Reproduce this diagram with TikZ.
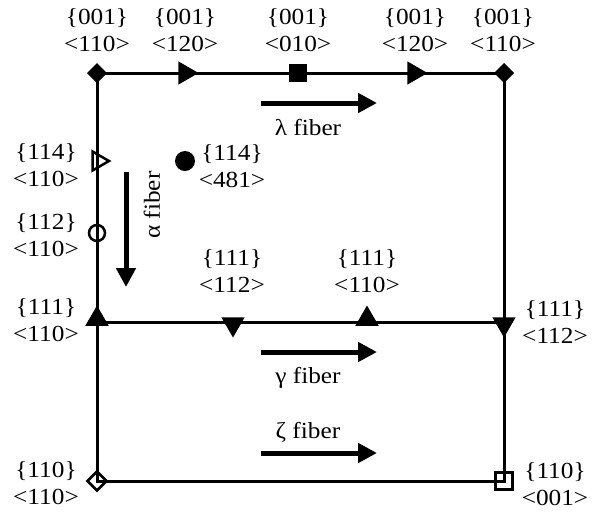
\documentclass[tikz,border=0pt]{standalone}
\usepackage{fontspec}
\setmainfont[FakeStretch=1.1]{Liberation Serif}
\usetikzlibrary{shapes.geometric,arrows.meta}
\begin{document}
\begin{tikzpicture}[x=1pt,y=-1pt,
  frame/.style={line width=3pt},
  mk/.style={inner sep=0pt, outer sep=0pt},
  fdiam/.style={mk, diamond, fill=black, minimum width=20pt, minimum height=20pt},
  odiam/.style={mk, diamond, draw, line width=2.5pt, minimum width=19pt, minimum height=19pt},
  ftri/.style={mk, regular polygon, regular polygon sides=3, fill=black, minimum size=27pt},
  otri/.style={mk, regular polygon, regular polygon sides=3, draw, line width=2.5pt, minimum size=22pt},
  fsq/.style={mk, rectangle, fill=black, minimum size=18pt},
  osq/.style={mk, rectangle, draw, line width=2.5pt, minimum size=17pt},
  fcirc/.style={mk, circle, fill=black, minimum size=20pt},
  ocirc/.style={mk, circle, draw, line width=2.5pt, minimum size=16pt},
  lbl/.style={align=center, font=\fontsize{23}{27}\selectfont, inner sep=0pt},
  flbl/.style={font=\fontsize{23}{27}\selectfont, inner sep=0pt},
  fib/.style={line width=5pt, -{Triangle[length=19pt,width=19pt]}}
]
\useasboundingbox (0,0) rectangle (594,512);
% corners
\coordinate (TL) at (97,73);
\coordinate (TR) at (504,73);
\coordinate (ML) at (97,322);
\coordinate (MR) at (504,322);
\coordinate (BL) at (97,481);
\coordinate (BR) at (504,481);
\draw[frame] (TR) -- (TL) -- (BL) -- (BR) -- (TR);
\draw[frame] (ML) -- (MR);
% markers
\node[fdiam] (m1) at (TL) {};
\node[ftri, shape border rotate=-90] (m2) at (185,73) {};
\node[fsq] (m3) at (298,73) {};
\node[ftri, shape border rotate=-90] (m4) at (414,73) {};
\node[fdiam] (m5) at (TR) {};
\node[otri, shape border rotate=-90] (m6) at (98,161) {};
\node[fcirc] (m7) at (185,161) {};
\node[ocirc] (m8) at (97,233) {};
\node[ftri] (m9) at (97,319) {};
\node[ftri, shape border rotate=180] (m10) at (233,324) {};
\node[ftri] (m11) at (367,319) {};
\node[ftri, shape border rotate=180] (m12) at (504,324) {};
\node[odiam] (m13) at (BL) {};
\node[osq] (m14) at (BR) {};
% labels
\node[lbl] (l1) at (97,30) {\{001\}\\<110>};
\node[lbl] (l2) at (185,30) {\{001\}\\<120>};
\node[lbl] (l3) at (298,30) {\{001\}\\<010>};
\node[lbl] (l4) at (415,30) {\{001\}\\<120>};
\node[lbl] (l5) at (503,30) {\{001\}\\<110>};
\node[lbl] (l6) at (46,165) {\{114\}\\<110>};
\node[lbl] (l7) at (46,235) {\{112\}\\<110>};
\node[lbl] (l8) at (46,320) {\{111\}\\<110>};
\node[lbl] (l9) at (46,483) {\{110\}\\<110>};
\node[lbl] (l10) at (232,166) {\{114\}\\<481>};
\node[lbl] (l11) at (232,271) {\{111\}\\<112>};
\node[lbl] (l12) at (367,271) {\{111\}\\<110>};
\node[lbl] (l13) at (555,322) {\{111\}\\<112>};
\node[lbl] (l14) at (555,484) {\{110\}\\<001>};
% fibers
\coordinate (lamS) at (261,103); \coordinate (lamE) at (377,103);
\coordinate (alpS) at (126,172); \coordinate (alpE) at (126,287);
\coordinate (gamS) at (261,352); \coordinate (gamE) at (377,352);
\coordinate (zetS) at (261,453); \coordinate (zetE) at (377,453);
\draw[fib] (lamS) -- (lamE);
\draw[fib] (alpS) -- (alpE);
\draw[fib] (gamS) -- (gamE);
\draw[fib] (zetS) -- (zetE);
\node[flbl] (f1) at (308,128) {λ fiber};
\node[flbl, rotate=90] (f2) at (152,205) {α fiber};
\node[flbl] (f3) at (308,378) {γ fiber};
\node[flbl] (f4) at (308,432) {ζ fiber};
\end{tikzpicture}
\end{document}
